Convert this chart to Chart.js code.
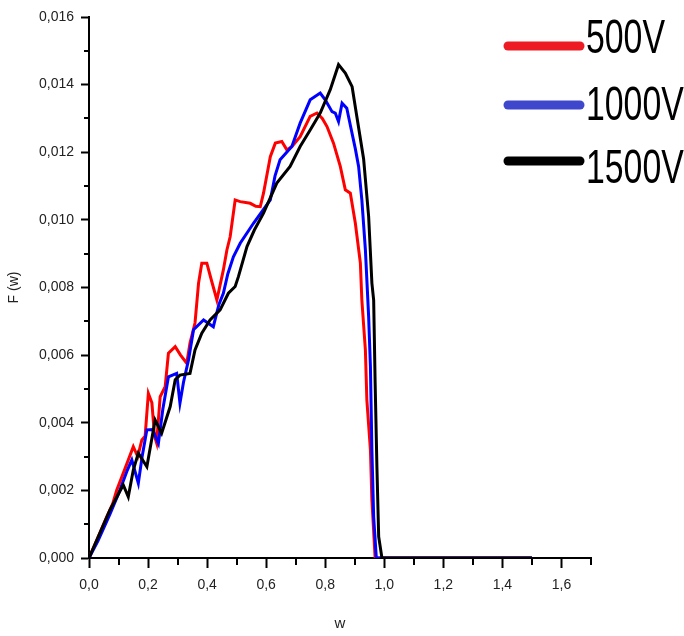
<!DOCTYPE html>
<html>
<head>
<meta charset="utf-8">
<script src="https://cdn.jsdelivr.net/npm/chart.js@4.4.1/dist/chart.umd.min.js"></script>
<style>
  body { margin: 0; background: #fff; }
  #chart { display: block; }
</style>
</head>
<body>
<canvas id="chart" width="684" height="636"></canvas>
<script>
// tick positions
const xTicks = [0, 0.2, 0.4, 0.6, 0.8, 1.0, 1.2, 1.4, 1.6];
const xMinor = [0.1, 0.3, 0.5, 0.7, 0.9, 1.1, 1.3, 1.5, 1.7];
const yTicks = [0, 0.002, 0.004, 0.006, 0.008, 0.010, 0.012, 0.014, 0.016];
const yMinor = [0.001, 0.003, 0.005, 0.007, 0.009, 0.011, 0.013, 0.015];

const labels = ["500V", "1000V", "1500V"];

// 500V
const w500 = [0, 0.03, 0.06, 0.08, 0.094, 0.12, 0.15, 0.165, 0.179, 0.19, 0.201, 0.213, 0.222, 0.229, 0.241, 0.258, 0.269, 0.292, 0.31, 0.331, 0.342, 0.359, 0.371, 0.382, 0.399, 0.415, 0.433, 0.455, 0.467, 0.478, 0.495, 0.512, 0.546, 0.565, 0.58, 0.591, 0.614, 0.631, 0.653, 0.67, 0.687, 0.715, 0.749, 0.772, 0.79, 0.806, 0.828, 0.851, 0.868, 0.885, 0.902, 0.919, 0.924, 0.936, 0.941, 0.953, 0.958, 0.969, 1.5];
const f500 = [0, 0.0006, 0.00122, 0.0016, 0.00201, 0.0026, 0.00329, 0.003, 0.00349, 0.0036, 0.00487, 0.00459, 0.0036, 0.0034, 0.00477, 0.00507, 0.00606, 0.00625, 0.006, 0.00576, 0.00636, 0.00695, 0.00813, 0.00872, 0.00872, 0.0082, 0.00763, 0.00852, 0.00911, 0.0095, 0.01059, 0.01054, 0.01049, 0.0104, 0.01039, 0.01079, 0.01187, 0.01227, 0.01232, 0.01207, 0.01217, 0.01246, 0.01306, 0.01316, 0.013, 0.01276, 0.01227, 0.01158, 0.01089, 0.01079, 0.0099, 0.00872, 0.00763, 0.00615, 0.00467, 0.0032, 0.00172, 0, 0];

// 1000V
const w1000 = [0, 0.03, 0.071, 0.1, 0.13, 0.145, 0.167, 0.18, 0.196, 0.215, 0.235, 0.25, 0.269, 0.297, 0.308, 0.32, 0.337, 0.354, 0.388, 0.421, 0.44, 0.455, 0.47, 0.489, 0.512, 0.557, 0.614, 0.63, 0.647, 0.687, 0.715, 0.749, 0.783, 0.8, 0.823, 0.834, 0.845, 0.857, 0.873, 0.885, 0.902, 0.913, 0.924, 0.936, 0.947, 0.953, 0.958, 0.964, 0.973, 1.5];
const f1000 = [0, 0.0005, 0.0013, 0.0019, 0.0026, 0.0029, 0.00221, 0.003, 0.00379, 0.0038, 0.00339, 0.0044, 0.00536, 0.00546, 0.00458, 0.0052, 0.00586, 0.00675, 0.00704, 0.00684, 0.0075, 0.00783, 0.0084, 0.00891, 0.00931, 0.0099, 0.01059, 0.0113, 0.01178, 0.01217, 0.01286, 0.01355, 0.01375, 0.01355, 0.0132, 0.01316, 0.01291, 0.01345, 0.0133, 0.0128, 0.0121, 0.01158, 0.01059, 0.00911, 0.00714, 0.00566, 0.0032, 0.00122, 0, 0];

// 1500V
const w1500 = [0, 0.071, 0.1, 0.116, 0.133, 0.15, 0.167, 0.196, 0.224, 0.246, 0.275, 0.292, 0.308, 0.342, 0.359, 0.382, 0.41, 0.444, 0.472, 0.495, 0.506, 0.535, 0.56, 0.591, 0.636, 0.681, 0.715, 0.749, 0.783, 0.817, 0.845, 0.868, 0.891, 0.907, 0.93, 0.947, 0.958, 0.964, 0.969, 0.975, 0.981, 0.992, 1.5];
const f1500 = [0, 0.00142, 0.0019, 0.00216, 0.00181, 0.0026, 0.0031, 0.0027, 0.00408, 0.00369, 0.00448, 0.00527, 0.00541, 0.00546, 0.00615, 0.00665, 0.00704, 0.00734, 0.00783, 0.00803, 0.00832, 0.00921, 0.0097, 0.0102, 0.01109, 0.01158, 0.01217, 0.01266, 0.01316, 0.01385, 0.01459, 0.01434, 0.01394, 0.01306, 0.0118, 0.0101, 0.00813, 0.00763, 0.00518, 0.0027, 0.00063, 0, 0];

function pts(ws, fs) {
    return ws.map((w, i) => ({ x: w, y: fs[i] }));
}

const tickFont = { family: "'Liberation Sans', Arial, sans-serif", size: 14 };

// short ticks between the labelled ones
const minorTicks = {
    id: "minorTicks",
    afterDraw(chart) {
        const ctx = chart.ctx;
        const xs = chart.scales.x;
        const ys = chart.scales.y;
        ctx.save();
        ctx.strokeStyle = "#000";
        ctx.lineWidth = 2;
        ctx.beginPath();
        xMinor.forEach(v => {
            const px = Math.round(xs.getPixelForValue(v));
            ctx.moveTo(px, xs.top);
            ctx.lineTo(px, xs.top + 7);
        });
        yMinor.forEach(v => {
            const py = Math.round(ys.getPixelForValue(v));
            ctx.moveTo(ys.right, py);
            ctx.lineTo(ys.right - 5, py);
        });
        ctx.stroke();
        ctx.restore();
    }
};

// big legend in the top right corner
const bigLegend = {
    id: "bigLegend",
    afterDraw(chart) {
        const ctx = chart.ctx;
        const rows = [
            { line: 46, base: 53 },
            { line: 105, base: 120 },
            { line: 161, base: 183 }
        ];
        ctx.save();
        chart.data.datasets.forEach((ds, i) => {
            const r = rows[i];
            ctx.strokeStyle = ds.legendColor;
            ctx.lineWidth = 9;
            ctx.lineCap = "round";
            ctx.beginPath();
            ctx.moveTo(508, r.line);
            ctx.lineTo(580, r.line);
            ctx.stroke();
            ctx.save();
            ctx.translate(586, r.base);
            ctx.scale(0.69, 1);
            ctx.fillStyle = "#000";
            ctx.font = "49px 'Liberation Sans', Arial, sans-serif";
            ctx.textBaseline = "alphabetic";
            ctx.fillText(ds.label, 0, 0);
            ctx.restore();
        });
        ctx.restore();
    }
};

new Chart(document.getElementById("chart"), {
    type: "line",
    data: {
        datasets: [
            { label: labels[0], data: pts(w500, f500), borderColor: "#ff0000", legendColor: "#ed1c24", borderWidth: 3, order: 3 },
            { label: labels[1], data: pts(w1000, f1000), borderColor: "#0000ff", legendColor: "#3f48cc", borderWidth: 3, order: 2 },
            { label: labels[2], data: pts(w1500, f1500), borderColor: "#000000", legendColor: "#000000", borderWidth: 3, order: 1 }
        ]
    },
    options: {
        responsive: false,
        animation: false,
        devicePixelRatio: 1,
        layout: { padding: { top: 17, right: 93, left: 0, bottom: 0 } },
        elements: { point: { radius: 0 }, line: { tension: 0 } },
        plugins: { legend: { display: false }, tooltip: { enabled: false } },
        scales: {
            x: {
                type: "linear",
                min: 0,
                max: 1.7,
                afterBuildTicks: s => { s.ticks = xTicks.map(v => ({ value: v })); },
                afterFit: s => { s.height = 78; },
                border: { color: "#000", width: 2 },
                grid: { drawOnChartArea: false, tickLength: 10, tickWidth: 2, tickColor: "#000" },
                ticks: {
                    padding: 9, color: "#222", font: tickFont, maxRotation: 0, autoSkip: false,
                    callback: v => v.toFixed(1).replace(".", ",")
                },
                title: { display: true, text: "w", color: "#222", font: { family: tickFont.family, size: 15 }, padding: { top: 0, bottom: 3 } }
            },
            y: {
                min: 0,
                max: 0.016,
                afterBuildTicks: s => { s.ticks = yTicks.map(v => ({ value: v })); },
                afterFit: s => { s.width = 89; },
                border: { color: "#000", width: 2 },
                grid: { drawOnChartArea: false, tickLength: 8, tickWidth: 2, tickColor: "#000" },
                ticks: {
                    padding: 7, color: "#222", font: tickFont, autoSkip: false,
                    callback: v => v.toFixed(3).replace(".", ",")
                },
                title: { display: true, text: "F (w)", color: "#222", font: { family: tickFont.family, size: 14 }, padding: { top: 6, bottom: 0 } }
            }
        }
    },
    plugins: [minorTicks, bigLegend]
});
</script>
</body>
</html>
